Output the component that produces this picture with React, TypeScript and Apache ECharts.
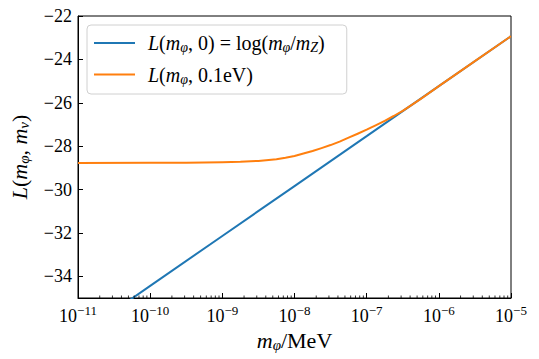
import React, { useEffect, useRef } from "react";
import * as echarts from "echarts";

// ---- data ----
const blueX = [1e-11, 1e-10, 1e-9, 1e-8, 1e-7, 1e-6, 1e-5];
const blueY = [-36.75, -34.44, -32.14, -29.84, -27.54, -25.23, -22.93];

const orangeX = [
  1e-11, 1e-10, 3.16e-10, 1e-9, 1.78e-9, 3.16e-9, 5.62e-9, 7.5e-9, 1e-8,
  1.33e-8, 1.78e-8, 2.37e-8, 3.16e-8, 4.22e-8, 5.62e-8, 7.5e-8, 1e-7,
  1.33e-7, 1.78e-7, 2.37e-7, 3.16e-7, 4.22e-7, 5.62e-7, 1e-6, 3.16e-6, 1e-5,
];
const orangeY = [
  -28.78, -28.77, -28.76, -28.74, -28.72, -28.68, -28.6, -28.53, -28.45,
  -28.34, -28.22, -28.09, -27.95, -27.79, -27.61, -27.43, -27.24,
  -27.04, -26.83, -26.61, -26.37, -26.1, -25.82, -25.23, -24.08, -22.93,
];

const yTicks = [-34, -32, -30, -28, -26, -24, -22];
const xMin = 1e-11;
const xMax = 1e-5;
const yMin = -35;
const yMax = -22;

const seriesNames = ["blue", "orange"];

// minor tick positions on the log x axis (2..9 x 10^d)
const minorTicks: number[] = [];
for (let d = -11; d < -5; d++) {
  for (let k = 2; k <= 9; k++) minorTicks.push(k * Math.pow(10, d));
}

const FONT = "Liberation Serif";

const mathRich = (size: number) => ({
  i: { fontFamily: FONT, fontStyle: "italic", fontSize: size, color: "#000" },
  n: { fontFamily: FONT, fontSize: size, color: "#000" },
  s: {
    fontFamily: FONT,
    fontStyle: "italic",
    fontSize: Math.round(size * 0.7),
    color: "#000",
    padding: [9, 0, 0, 0],
  },
  sp: { fontFamily: FONT, fontSize: size, width: 8 },
});

export default function App() {
  const ref = useRef<HTMLDivElement>(null);
  useEffect(() => {
    if (!ref.current) return;
    const chart = echarts.init(ref.current, null, { renderer: "svg" });
    const option: any = {
      animation: false,
      backgroundColor: "#fff",
      grid: {
        left: 77,
        right: 28,
        top: 16,
        bottom: 61,
        show: true,
        borderColor: "#000",
        borderWidth: 1,
        backgroundColor: "transparent",
      },
      legend: {
        left: 87,
        top: 25,
        orient: "vertical",
        data: seriesNames,
        icon: "rect",
        itemWidth: 41,
        itemHeight: 2,
        itemGap: 10,
        padding: [8, 22, 8, 7],
        backgroundColor: "#fff",
        borderColor: "#d0d0d0",
        borderWidth: 1,
        borderRadius: 4,
        textStyle: { rich: mathRich(20) },
        formatter: (name: string) =>
          name === "blue"
            ? "{sp| }{i|L}{n|(}{i|m}{s|φ}{n|, 0) = log(}{i|m}{s|φ}{n|/}{i|m}{s|Z}{n|)}"
            : "{sp| }{i|L}{n|(}{i|m}{s|φ}{n|, 0.1eV)}",
      },
      xAxis: {
        type: "log",
        logBase: 10,
        min: xMin,
        max: xMax,
        name: "{i|m}{s|φ}{n|/MeV}",
        nameLocation: "middle",
        nameGap: 24,
        nameTextStyle: { rich: mathRich(22) },
        axisLine: { show: true, lineStyle: { color: "#000", width: 1 } },
        axisTick: { show: true, inside: true, length: 5, lineStyle: { color: "#000", width: 1 } },
        splitLine: { show: false },
        axisLabel: {
          margin: 6,
          formatter: (v: number) => {
            const e = Math.round(Math.log10(v));
            return "{b|10}{e|" + String(e).replace("-", "−") + "}";
          },
          rich: {
            b: { fontFamily: FONT, fontSize: 18, color: "#000" },
            e: { fontFamily: FONT, fontSize: 13, color: "#000", padding: [0, 0, 10, 0] },
          },
        },
      },
      yAxis: {
        type: "value",
        min: yMin,
        max: yMax,
        name: "{i|L}{n|(}{i|m}{s|φ}{n|, }{i|m}{s|ν}{n|)}",
        nameLocation: "middle",
        nameGap: 47,
        nameTextStyle: { rich: mathRich(22) },
        axisLine: { show: true, lineStyle: { color: "#000", width: 1 } },
        axisTick: {
          show: true,
          inside: true,
          length: 5,
          customValues: yTicks,
          lineStyle: { color: "#000", width: 1 },
        },
        splitLine: { show: false },
        axisLabel: {
          customValues: yTicks,
          margin: 6,
          fontFamily: FONT,
          fontSize: 18,
          color: "#000",
          formatter: (v: number) => String(v).replace("-", "−"),
        },
      },
      series: [
        {
          name: "blue",
          type: "line",
          data: blueX.map((x, i) => [x, blueY[i]]),
          symbol: "none",
          clip: true,
          lineStyle: { color: "#1f77b4", width: 2 },
          itemStyle: { color: "#1f77b4" },
          z: 3,
        },
        {
          name: "orange",
          type: "line",
          data: orangeX.map((x, i) => [x, orangeY[i]]),
          symbol: "none",
          clip: true,
          lineStyle: { color: "#ff7f0e", width: 2, join: "round" },
          itemStyle: { color: "#ff7f0e" },
          z: 4,
        },
        {
          name: "minor",
          type: "custom",
          silent: true,
          clip: false,
          z: 5,
          data: minorTicks.map((v) => [v, yMin]),
          encode: { x: 0, y: 1 },
          renderItem: (_params: any, api: any) => {
            const p = api.coord([api.value(0), yMin]);
            return {
              type: "line",
              shape: { x1: p[0], y1: p[1], x2: p[0], y2: p[1] - 2.5 },
              style: { stroke: "#000", lineWidth: 0.8 },
            };
          },
        },
      ],
    };
    chart.setOption(option);
    return () => chart.dispose();
  }, []);
  return (
    <div
      ref={ref}
      style={{ position: "fixed", left: 0, top: 0, width: 539, height: 359 }}
    />
  );
}
